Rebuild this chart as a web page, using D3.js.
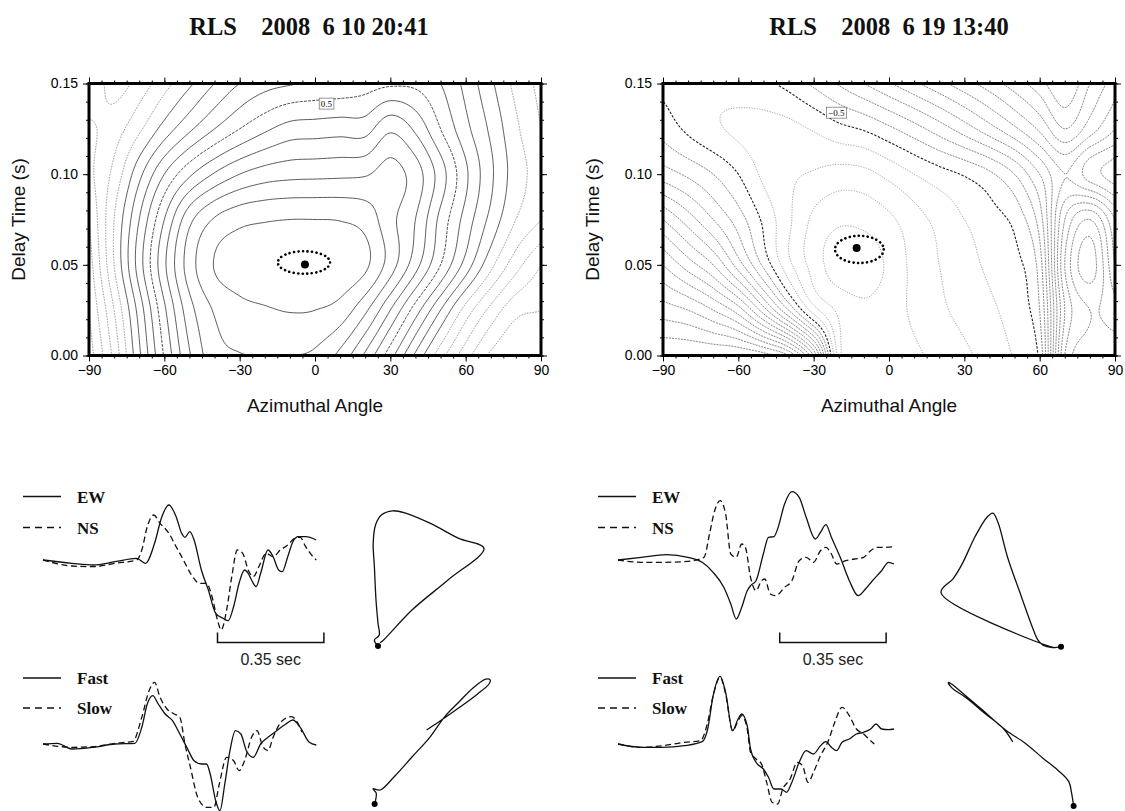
<!DOCTYPE html>
<html><head><meta charset="utf-8">
<script src="https://cdn.jsdelivr.net/npm/d3@7"></script>
<style>body{margin:0;background:#fff}svg{display:block}</style>
</head><body>
<svg id="c" width="1125" height="811"></svg>
<script>
// ---------------- DATA ----------------
const titleLeft = "RLS    2008  6 10 20:41";
const titleRight = "RLS    2008  6 19 13:40";
const azimuthTicks = [-90, -60, -30, 0, 30, 60, 90];
const delayTicks = [0, 0.05, 0.10, 0.15];
const gridAzimuth = [-90,-80,-70,-60,-50,-40,-30,-20,-10,0,10,20,30,40,50,60,70,80,90];
const gridDelay = [0, 0.025, 0.05, 0.075, 0.1, 0.125, 0.15];
// misfit surface (contour index), rows = gridDelay, columns = gridAzimuth
const fieldLeft = [
  [16.5,13.7,10.2,6.9,4.1,2.4,2.05,2.0,2.0,2.2,3.3,5.2,7.6,10.2,12.6,14.6,16.2,17,16.8],
  [16,13,9.6,6.2,3.4,1.9,1.3,1.1,0.95,1.0,1.4,2.8,5.0,7.5,10,12.4,14.3,15.7,16],
  [15.5,12,8.5,5.2,2.5,0.95,0.5,0.25,0.08,0.08,0.3,0.8,2.5,4.6,7.0,9.4,11.7,13.6,15],
  [15,12,9.0,6.0,3.3,1.9,1.3,1.1,1.0,1.0,1.05,1.4,2.7,4.0,6.3,8.4,10.3,12,13],
  [14.3,12.7,10.3,8.0,6.2,4.9,4.0,3.5,3.3,3.25,3.2,3.1,2.6,3.5,5.5,7.8,9.8,11.5,12.5],
  [14.2,13.5,12.2,10.6,9.2,8.0,7.0,6.2,5.6,5.5,5.4,5.4,4.2,5.2,7.0,8.7,10.2,11.8,13],
  [13.0,14.4,13.6,12.4,11.2,10.0,9.0,8.4,8.1,7.9,7.8,7.5,7.2,7.25,8.0,9.3,10.8,12.3,13.3]
];
const fieldRight = [
  [19,19,19,19,18.5,17,12,2.5,1.2,1.3,1.8,2.3,2.8,3.4,4.1,5.3,14,15.5,15.5],
  [16.5,16,15,13.5,10.5,7,3.5,1.8,1.2,1.5,2.2,2.8,3.3,3.8,4.5,6,13,15,14.5],
  [14,12.5,11,8.5,5.8,3.3,1.6,0.4,0.4,1.2,2.3,3,3.6,4.2,4.7,6.5,14,16.5,13],
  [11,9.5,8,6.5,4.8,3.2,1.8,1.2,1.3,1.8,2.6,3.3,4,4.6,5.3,7.5,13,15,12],
  [7.5,6.8,6,5,3.8,3.2,2.9,2.6,2.7,3.3,4,4.6,5.1,5.8,7,9,11,9.5,8.5],
  [5.6,4.8,4.2,3.8,3.6,3.7,4.1,4.7,5.1,5.8,6.6,7.5,8.5,9.6,10.8,12.2,14,12.5,11],
  [4.7,4.4,4.3,4.5,4.8,5.3,6.2,7.1,8.0,8.9,9.8,10.7,11.6,12.5,13.5,14.6,16,14,12.5]
];
const contourLevels = [1,2,3,4,5,6,7,8,9,10,11,12,13,14,15,16,17,18,19];
const annotatedLeft = 7, annotatedRight = 5;
const labelLeft = {text: "0.5", az: 4.5, dt: 0.139};
const labelRight = {text: "\u22120.5", az: -21, dt: 0.134};
const bestLeft = {az: -4.0, dt: 0.0502};
const bestRight = {az: -12.9, dt: 0.0593};
const errLeft = {az: -4.4, dt: 0.0513, daz: 10.4, ddt: 0.0062};
const errRight = {az: -11.8, dt: 0.0585, daz: 9.7, ddt: 0.0075};

// waveforms: time (s) and amplitude (counts)
const tEWLeft = [0,0.095,0.166,0.237,0.308,0.337,0.367,0.391,0.414,0.438,0.456,0.467,0.483,0.497,0.521,0.544,0.568,0.592,0.609,0.627,0.645,0.663,0.675,0.686,0.701,0.716,0.740,0.757,0.775,0.787,0.805,0.822,0.840,0.864,0.899];
const aEWLeft = [0,-3.3,-5,-1.7,1.7,-3.3,16.7,43.3,55,43.3,26.7,22.7,28.3,20,-10,-30,-53.3,-58.3,-60.7,-46.7,-23.3,-10,-13.3,-20,-26.7,-13.3,10,3.3,-10,-11.7,3.3,18.3,23.3,23.3,20];
const tNSLeft = [0,0.095,0.166,0.237,0.308,0.325,0.343,0.364,0.385,0.414,0.438,0.462,0.485,0.515,0.538,0.556,0.574,0.586,0.604,0.621,0.639,0.657,0.675,0.692,0.710,0.734,0.757,0.781,0.805,0.828,0.846,0.864,0.888,0.899];
const aNSLeft = [0,-6,-6.7,-3.3,0,10,33.3,45,36.7,26.7,13.3,0,-13.3,-23.3,-23.3,-36.7,-60,-70,-50,-16.7,10,6.7,-10,-16.7,-6.7,6.7,3.3,10,15,21.7,22.7,13.3,3.3,0];
const tFastLeft = [0,0.047,0.095,0.166,0.237,0.302,0.325,0.343,0.361,0.379,0.402,0.426,0.450,0.473,0.497,0.521,0.538,0.550,0.568,0.582,0.598,0.615,0.633,0.651,0.669,0.692,0.716,0.740,0.769,0.799,0.822,0.846,0.876,0.899];
const aFastLeft = [0,0.7,-5,-3.3,0,0.7,16.7,40,48.3,40,30,23.3,10,-3.3,-16.7,-20,-20,-30,-56.7,-66.7,-40,-6.7,13.3,10,-6.7,-13.3,0,6.7,13.3,20,24,16.7,1.7,-1];
const tSlowLeft = [0,0.095,0.166,0.237,0.296,0.325,0.349,0.367,0.385,0.408,0.432,0.450,0.467,0.485,0.509,0.538,0.562,0.580,0.604,0.627,0.645,0.663,0.686,0.704,0.722,0.740,0.757,0.787,0.817,0.840,0.852];
const aSlowLeft = [0,-3.3,-2.7,0.7,2.7,26.7,53.3,61.7,46.7,35,30,26.7,0,-23.3,-53.3,-63.3,-63.3,-40,-13.3,-16.7,-26.7,-16.7,6.7,13.3,-1.7,-6.7,6.7,23.3,27.3,20,11.7];

const tEWRight = [0,0.077,0.159,0.230,0.277,0.313,0.348,0.371,0.389,0.407,0.425,0.436,0.454,0.478,0.495,0.513,0.525,0.548,0.572,0.596,0.619,0.649,0.666,0.684,0.702,0.731,0.761,0.790,0.814,0.837,0.867,0.890,0.908];
const aEWRight = [0,2.7,5.3,2.7,-2.3,-12.3,-27.3,-44,-59,-47.3,-30.7,-25.7,-20.7,6,22.7,23.3,31,56,68.3,62.7,42.7,21,27.7,35.3,22.7,2.7,-20.7,-35.7,-29,-20.7,-10.7,-2.3,-4];
const tNSRight = [0,0.077,0.147,0.230,0.283,0.301,0.318,0.336,0.354,0.371,0.389,0.407,0.419,0.436,0.454,0.472,0.483,0.501,0.519,0.548,0.572,0.596,0.619,0.643,0.666,0.684,0.702,0.719,0.749,0.778,0.808,0.831,0.855,0.879,0.908];
const aNSRight = [0,-2.3,-2.3,-1.3,2.7,26,49.3,59.3,46,6,2.7,16,12.7,-17.3,-30.7,-20.7,-19,-34,-35.7,-27.3,-20.7,-0.7,2.7,-2.3,9.3,12.7,6,-4,-0.7,1,2.7,9.3,12.7,12.7,13.3];
const tFastRight = [0,0.077,0.147,0.218,0.277,0.295,0.313,0.336,0.354,0.377,0.395,0.407,0.425,0.436,0.454,0.478,0.495,0.513,0.537,0.554,0.572,0.596,0.619,0.643,0.666,0.684,0.702,0.719,0.737,0.761,0.784,0.808,0.831,0.849,0.867,0.890,0.908];
const aFastRight = [0,-3.3,-3.3,-1.7,2.3,15,48.3,67.7,51.7,13.3,25,30,18.3,-5,-18.3,-25,-33.3,-45,-45,-48.3,-38.3,-18.3,-6.7,-10,-1.7,2.3,-3.3,-6.7,1.7,5,10,11.7,15,20,15,14.3,15];
const tSlowRight = [0,0.077,0.147,0.218,0.271,0.295,0.313,0.336,0.354,0.377,0.395,0.407,0.425,0.436,0.454,0.472,0.489,0.507,0.525,0.542,0.566,0.590,0.607,0.625,0.643,0.666,0.690,0.713,0.737,0.761,0.784,0.808,0.825,0.843];
const aSlowRight = [0,-3.3,-1.7,1.7,3.3,21.7,48.3,66.7,50,13.3,23.3,28.3,15,-8.3,-15,-20,-38.3,-58.3,-60,-45,-35,-18.3,-21.7,-38.3,-28.3,-11.7,1.7,21.7,36.7,28.3,15,10,5,0];

// particle motion (EW, NS) in relative amplitude units
const pmEWLeftTop = [0,-0.09,0.03,0,-0.05,-0.09,-0.12,-0.06,0.09,0.36,0.67,1.30,2.02,2.65,1.75,0.85,0.14,0.05];
const pmNSLeftTop = [0,0.15,0.27,0.57,1.15,1.98,2.57,3.03,3.28,3.38,3.33,3.07,2.69,2.44,1.65,0.9,0.15,0.08];
const pmFastLeft = [0,0.04,-0.04,0.14,0.49,0.94,1.39,1.75,2.11,2.46,2.78,2.89,2.86,2.56,2.1,1.6,1.3];
const pmSlowLeft = [0,0.27,0.38,0.35,0.68,1.18,1.68,2.18,2.55,2.9,3.12,3.1,3.0,2.74,2.4,2.05,1.85];
const pmEWRightTop = [0,-0.22,-0.45,-0.58,-0.72,-0.99,-1.34,-1.57,-1.70,-1.84,-2.15,-2.46,-2.69,-3.0,-0.27,-0.13];
const pmNSRightTop = [0,-0.02,0.04,0.17,0.5,1.25,2.25,3.09,3.34,3.25,2.75,2.09,1.71,1.35,0,-0.03];
const pmFastRight = [0,-0.05,-0.12,-0.4,-0.76,-1.21,-1.70,-2.3,-2.75,-3.05,-3.13,-3.05,-2.68,-2.2,-1.75,-1.52];
const pmSlowRight = [0,0.32,0.61,0.9,1.19,1.57,1.9,2.42,2.8,3.05,3.09,2.96,2.7,2.3,1.93,1.6];

const legendTop = ["EW", "NS"];
const legendBottom = ["Fast", "Slow"];
const scaleBarSeconds = 0.35;
const scaleBarStart = [0.574, 0.532];

// ---------------- DRAW ----------------
const svg = d3.select("#c");
const serif = "'Liberation Serif','Times New Roman',serif";
const sans = "'Liberation Sans',Arial,Helvetica,sans-serif";

function cr(p0,p1,p2,p3,t){return 0.5*(2*p1+(-p0+p2)*t+(2*p0-5*p1+4*p2-p3)*t*t+(-p0+3*p1-3*p2+p3)*t*t*t);}
function sampleGrid(rows, gx, gy){
  const nx = rows[0].length, ny = rows.length;
  const ix = Math.min(Math.floor(gx), nx-2), iy = Math.min(Math.floor(gy), ny-2);
  const tx = gx-ix, ty = gy-iy;
  const gv = (i,j) => {
    if (i < 0) return 2*gv(0,j)-gv(1,j);
    if (i > nx-1) return 2*gv(nx-1,j)-gv(nx-2,j);
    if (j < 0) return 2*gv(i,0)-gv(i,1);
    if (j > ny-1) return 2*gv(i,ny-1)-gv(i,ny-2);
    return rows[j][i];
  };
  const col = [];
  for (let m=-1; m<=2; m++) col.push(cr(gv(ix-1,iy+m),gv(ix,iy+m),gv(ix+1,iy+m),gv(ix+2,iy+m),tx));
  return cr(col[0],col[1],col[2],col[3],ty);
}

function contourPanel(opt){
  const {x0, field, title, label, best, err, styleFn, id} = opt;
  const left = x0, right = x0 + 452, top = 83.5, bottom = 355.5;
  const x = d3.scaleLinear().domain([-90, 90]).range([left, right]);
  const y = d3.scaleLinear().domain([0, 0.15]).range([bottom, top]);
  const g = svg.append("g");

  g.append("text").attr("x", opt.titleX).attr("y", 35)
    .attr("text-anchor","middle").attr("font-family", serif).attr("font-weight","bold")
    .attr("font-size", 24.5).attr("fill","#111").style("white-space","pre").text(title);

  // contours from the misfit grid
  const azStep = 1, dtStep = 0.001;
  const NX = Math.round(180/azStep)+1, NY = Math.round(0.15/dtStep)+1;
  const dAz = gridAzimuth[1]-gridAzimuth[0], dDt = gridDelay[1]-gridDelay[0];
  const values = new Float64Array(NX*NY);
  for (let j=0;j<NY;j++) for (let i=0;i<NX;i++){
    const az = -90 + i*azStep, dt = j*dtStep;
    values[i + j*NX] = sampleGrid(field, (az-gridAzimuth[0])/dAz, (dt-gridDelay[0])/dDt);
  }
  const contours = d3.contours().size([NX, NY]).thresholds(contourLevels)(values);
  const clampAz = v => Math.max(-90, Math.min(90, v));
  const clampDt = v => Math.max(0, Math.min(0.15, v));
  const proj = d3.geoTransform({point(px, py){
    this.stream.point(x(clampAz(-90 + (px-0.5)*azStep)), y(clampDt((py-0.5)*dtStep)));
  }});
  const path = d3.geoPath(proj);
  svg.append("clipPath").attr("id", id).append("rect")
    .attr("x", left).attr("y", top).attr("width", right-left).attr("height", bottom-top);
  const cg = g.append("g").attr("clip-path", `url(#${id})`);
  contours.forEach(c => {
    const s = styleFn(c.value);
    cg.append("path").attr("d", path(c)).attr("fill","none")
      .attr("stroke", s.stroke).attr("stroke-width", s.width)
      .attr("stroke-dasharray", s.dash || null);
  });

  // contour label
  const lg = g.append("g").attr("transform", `translate(${x(label.az)},${y(label.dt)})`);
  const lt = lg.append("text").attr("text-anchor","middle").attr("dy","0.35em")
    .attr("font-family", serif).attr("font-size", 9).text(label.text);
  const bb = lt.node().getBBox();
  lg.insert("rect","text").attr("x", bb.x-1.5).attr("y", bb.y-0.5).attr("width", bb.width+3)
    .attr("height", bb.height+1).attr("fill","#fff").attr("stroke","#555").attr("stroke-width",0.6);

  // error ellipse + best point
  g.append("ellipse").attr("cx", x(err.az)).attr("cy", y(err.dt))
    .attr("rx", x(err.az+err.daz)-x(err.az)).attr("ry", y(err.dt)-y(err.dt+err.ddt))
    .attr("fill","none").attr("stroke","#000").attr("stroke-width",2.6)
    .attr("stroke-linecap","round").attr("stroke-dasharray","0.1,4.4");
  g.append("circle").attr("cx", x(best.az)).attr("cy", y(best.dt)).attr("r", 4).attr("fill","#000");

  // axes (ticks outside on all sides)
  const fmtY = d3.format(".2f");
  const minorAz = d3.range(-90, 91, 5), minorDt = d3.range(0, 0.1501, 0.01);
  const axStyle = sel => { sel.select(".domain").remove(); sel.selectAll("line").attr("stroke","#000").attr("stroke-width",1); };
  g.append("g").attr("transform",`translate(0,${bottom})`).call(d3.axisBottom(x).tickValues(minorAz).tickSize(3).tickFormat("")).call(axStyle);
  g.append("g").attr("transform",`translate(0,${top})`).call(d3.axisTop(x).tickValues(minorAz).tickSize(3).tickFormat("")).call(axStyle);
  g.append("g").attr("transform",`translate(${left},0)`).call(d3.axisLeft(y).tickValues(minorDt).tickSize(3).tickFormat("")).call(axStyle);
  g.append("g").attr("transform",`translate(${right},0)`).call(d3.axisRight(y).tickValues(minorDt).tickSize(3).tickFormat("")).call(axStyle);
  const bx = g.append("g").attr("transform",`translate(0,${bottom})`)
    .call(d3.axisBottom(x).tickValues(azimuthTicks).tickSize(6).tickPadding(4).tickFormat(d3.format("d"))).call(axStyle);
  bx.selectAll("text").attr("font-family", sans).attr("font-size", 14).attr("fill","#000");
  g.append("g").attr("transform",`translate(0,${top})`).call(d3.axisTop(x).tickValues(azimuthTicks).tickSize(6).tickFormat("")).call(axStyle);
  const ly = g.append("g").attr("transform",`translate(${left},0)`)
    .call(d3.axisLeft(y).tickValues(delayTicks).tickSize(6).tickPadding(5).tickFormat(fmtY)).call(axStyle);
  ly.selectAll("text").attr("font-family", sans).attr("font-size", 14).attr("fill","#000");
  g.append("g").attr("transform",`translate(${right},0)`).call(d3.axisRight(y).tickValues(delayTicks).tickSize(6).tickFormat("")).call(axStyle);

  g.append("rect").attr("x", left).attr("y", top).attr("width", right-left).attr("height", bottom-top)
    .attr("fill","none").attr("stroke","#000").attr("stroke-width",3);

  g.append("text").attr("x", (left+right)/2).attr("y", 412).attr("text-anchor","middle")
    .attr("font-family", sans).attr("font-size", 19).attr("fill","#111").text("Azimuthal Angle");
  g.append("text").attr("transform", `translate(${left-64},${(top+bottom)/2}) rotate(-90)`)
    .attr("text-anchor","middle").attr("font-family", sans).attr("font-size", 19).attr("fill","#111")
    .text("Delay Time (s)");
}

contourPanel({x0: 89, titleX: 309, field: fieldLeft, title: titleLeft, label: labelLeft, best: bestLeft, err: errLeft, id: "clipL",
  styleFn: v => v === annotatedLeft ? {stroke:"#333", width:0.9, dash:"3,1.2"}
              : v <= 11 ? {stroke:"#3c3c3c", width:0.85} : {stroke:"#8c8c8c", width:0.85, dash:"1.6,1.2"}});
contourPanel({x0: 663, titleX: 889, field: fieldRight, title: titleRight, label: labelRight, best: bestRight, err: errRight, id: "clipR",
  styleFn: v => v === annotatedRight ? {stroke:"#222", width:1.1, dash:"2.5,1.5"}
              : v < annotatedRight ? {stroke:"#999", width:0.9, dash:"1.2,1.4"} : {stroke:"#6f6f6f", width:0.85, dash:"2,1"}});

// waveform panels
function wavePanel(opt){
  const {dx, traces, pms} = opt;
  const g = svg.append("g").attr("transform", `translate(${dx},0)`);
  const t = d3.scaleLinear().domain([0, 1]).range([43, 43+304]);
  const rows = [{base: 560, names: legendTop, ly: [496.5, 527.5]}, {base: 744, names: legendBottom, ly: [678, 708]}];
  rows.forEach((r, k) => {
    const a = d3.scaleLinear().domain([-70, 70]).range([r.base+70, r.base-70]);
    const line = d3.line().x(d => t(d[0])).y(d => a(d[1])).curve(d3.curveMonotoneX);
    traces[k].forEach((tr, m) => {
      const pts = tr.t.map((v,i) => [v, tr.a[i]]);
      g.append("path").attr("d", line(pts)).attr("fill","none").attr("stroke","#111")
        .attr("stroke-width", 1.3).attr("stroke-dasharray", m === 1 ? "6,3.5" : null);
      g.append("line").attr("x1", 23).attr("x2", 61).attr("y1", r.ly[m]).attr("y2", r.ly[m])
        .attr("stroke","#111").attr("stroke-width",1.3).attr("stroke-dasharray", m === 1 ? "7,5" : null);
      g.append("text").attr("x", 77).attr("y", r.ly[m] + 6).attr("font-family", serif)
        .attr("font-weight","bold").attr("font-size", 17).attr("fill","#111").text(r.names[m]);
    });
  });
  // scale bar
  const sb0 = t(opt.sb), sb1 = t(opt.sb + scaleBarSeconds), sy = 642.5;
  g.append("path").attr("d", `M${sb0},${sy-10}V${sy}H${sb1}V${sy-10}`).attr("fill","none")
    .attr("stroke","#111").attr("stroke-width",1.5);
  g.append("text").attr("x", (sb0+sb1)/2).attr("y", 665).attr("text-anchor","middle")
    .attr("font-family", sans).attr("font-size", 16).attr("fill","#222").text(scaleBarSeconds + " sec");
  // particle motion
  pms.forEach(pm => {
    const px = d3.scaleLinear().domain([0,1]).range([pm.ox, pm.ox+40]);
    const py = d3.scaleLinear().domain([0,1]).range([pm.oy, pm.oy-40]);
    const pts = pm.x.map((v,i) => [v, pm.y[i]]);
    g.append("path").attr("d", d3.line().x(d=>px(d[0])).y(d=>py(d[1])).curve(d3.curveCatmullRom.alpha(0.5))(pts))
      .attr("fill","none").attr("stroke","#111").attr("stroke-width",1.3);
    g.append("circle").attr("cx", px(pm.x[0])).attr("cy", py(pm.y[0])).attr("r", 3).attr("fill","#000");
  });
}

wavePanel({dx: 0, sb: scaleBarStart[0],
  traces: [[{t:tEWLeft,a:aEWLeft},{t:tNSLeft,a:aNSLeft}],[{t:tFastLeft,a:aFastLeft},{t:tSlowLeft,a:aSlowLeft}]],
  pms: [{x: pmEWLeftTop, y: pmNSLeftTop, ox: 378, oy: 646}, {x: pmFastLeft, y: pmSlowLeft, ox: 374.6, oy: 804}]});
wavePanel({dx: 575, sb: scaleBarStart[1],
  traces: [[{t:tEWRight,a:aEWRight},{t:tNSRight,a:aNSRight}],[{t:tFastRight,a:aFastRight},{t:tSlowRight,a:aSlowRight}]],
  pms: [{x: pmEWRightTop, y: pmNSRightTop, ox: 486, oy: 646.7}, {x: pmFastRight, y: pmSlowRight, ox: 498.6, oy: 806}]});
</script>
</body></html>
